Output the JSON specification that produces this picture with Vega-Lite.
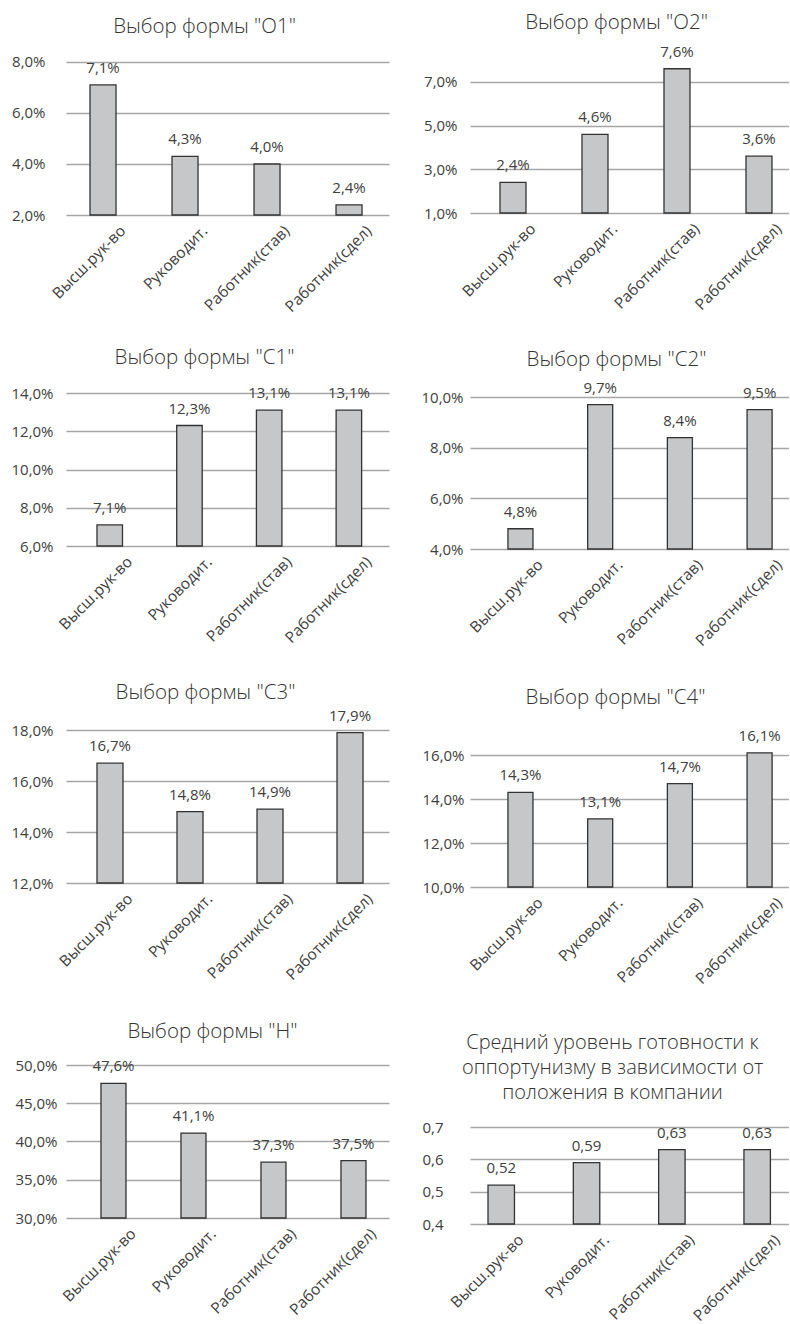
{
  "$schema": "https://vega.github.io/schema/vega-lite/v6.json",
  "padding": 0,
  "background": "white",
  "datasets": {
    "main": [
      {"panel": "O1", "cat": "Высш.рук-во", "value": 0.071},
      {"panel": "O1", "cat": "Руководит.", "value": 0.043},
      {"panel": "O1", "cat": "Работник(став)", "value": 0.040},
      {"panel": "O1", "cat": "Работник(сдел)", "value": 0.024},
      {"panel": "O2", "cat": "Высш.рук-во", "value": 0.024},
      {"panel": "O2", "cat": "Руководит.", "value": 0.046},
      {"panel": "O2", "cat": "Работник(став)", "value": 0.076},
      {"panel": "O2", "cat": "Работник(сдел)", "value": 0.036},
      {"panel": "C1", "cat": "Высш.рук-во", "value": 0.071},
      {"panel": "C1", "cat": "Руководит.", "value": 0.123},
      {"panel": "C1", "cat": "Работник(став)", "value": 0.131},
      {"panel": "C1", "cat": "Работник(сдел)", "value": 0.131},
      {"panel": "C2", "cat": "Высш.рук-во", "value": 0.048},
      {"panel": "C2", "cat": "Руководит.", "value": 0.097},
      {"panel": "C2", "cat": "Работник(став)", "value": 0.084},
      {"panel": "C2", "cat": "Работник(сдел)", "value": 0.095},
      {"panel": "C3", "cat": "Высш.рук-во", "value": 0.167},
      {"panel": "C3", "cat": "Руководит.", "value": 0.148},
      {"panel": "C3", "cat": "Работник(став)", "value": 0.149},
      {"panel": "C3", "cat": "Работник(сдел)", "value": 0.179},
      {"panel": "C4", "cat": "Высш.рук-во", "value": 0.143},
      {"panel": "C4", "cat": "Руководит.", "value": 0.131},
      {"panel": "C4", "cat": "Работник(став)", "value": 0.147},
      {"panel": "C4", "cat": "Работник(сдел)", "value": 0.161},
      {"panel": "H", "cat": "Высш.рук-во", "value": 0.476},
      {"panel": "H", "cat": "Руководит.", "value": 0.411},
      {"panel": "H", "cat": "Работник(став)", "value": 0.373},
      {"panel": "H", "cat": "Работник(сдел)", "value": 0.375},
      {"panel": "AVG", "cat": "Высш.рук-во", "value": 0.52},
      {"panel": "AVG", "cat": "Руководит.", "value": 0.59},
      {"panel": "AVG", "cat": "Работник(став)", "value": 0.63},
      {"panel": "AVG", "cat": "Работник(сдел)", "value": 0.63}
    ],
    "blank": []
  },
  "columns": 4,
  "spacing": 0,
  "bounds": "flush",
  "align": "each",
  "concat": [
    {"width": 66, "height": 1, "data": {"name": "blank"}, "mark": {"type": "point", "opacity": 0}, "encoding": {}},
    {"width": 1, "height": 60, "data": {"name": "blank"}, "mark": {"type": "point", "opacity": 0}, "encoding": {}},
    {"width": 1, "height": 1, "data": {"name": "blank"}, "mark": {"type": "point", "opacity": 0}, "encoding": {}},
    {"width": 1, "height": 1, "data": {"name": "blank"}, "mark": {"type": "point", "opacity": 0}, "encoding": {}},

    {"width": 66, "height": 1, "data": {"name": "blank"}, "mark": {"type": "point", "opacity": 0}, "encoding": {}},
    {
      "width": 323, "height": 155,
      "title": {"text": "Выбор формы \"О1\"", "dx": -23, "dy": -13},
      "data": {"name": "main"},
      "transform": [{"filter": "datum.panel === 'O1'"}],
      "encoding": {
        "x": {"field": "cat", "type": "nominal", "sort": null, "title": null, "scale": {"paddingInner": 0.683, "paddingOuter": 0.311, "align": 0.471}},
        "y": {"field": "value", "type": "quantitative", "title": null, "scale": {"domain": [0.02, 0.080784], "nice": false, "zero": false}, "axis": {"values": [0.02, 0.04, 0.06, 0.08], "format": ".1%", "labelPadding": 21}}
      },
      "layer": [
        {"mark": {"type": "bar"}, "encoding": {"y2": {"datum": 0.02}}},
        {"mark": {"type": "text"}, "encoding": {"text": {"field": "value", "type": "quantitative", "format": ".1%"}}}
      ]
    },
    {"width": 81, "height": 1, "data": {"name": "blank"}, "mark": {"type": "point", "opacity": 0}, "encoding": {}},
    {
      "width": 319, "height": 153,
      "title": {"text": "Выбор формы \"О2\"", "dx": -13, "dy": -7},
      "data": {"name": "main"},
      "transform": [{"filter": "datum.panel === 'O2'"}],
      "encoding": {
        "x": {"field": "cat", "type": "nominal", "sort": null, "title": null, "scale": {"paddingInner": 0.683, "paddingOuter": 0.2866, "align": 0.638}},
        "y": {"field": "value", "type": "quantitative", "title": null, "scale": {"domain": [0.01, 0.08], "nice": false, "zero": false}, "axis": {"values": [0.01, 0.03, 0.05, 0.07], "format": ".1%", "labelPadding": 13}}
      },
      "layer": [
        {"mark": {"type": "bar"}, "encoding": {"y2": {"datum": 0.01}}},
        {"mark": {"type": "text"}, "encoding": {"text": {"field": "value", "type": "quantitative", "format": ".1%"}}}
      ]
    },

    {"width": 1, "height": 1, "data": {"name": "blank"}, "mark": {"type": "point", "opacity": 0}, "encoding": {}},
    {"width": 1, "height": 178, "data": {"name": "blank"}, "mark": {"type": "point", "opacity": 0}, "encoding": {}},
    {"width": 1, "height": 1, "data": {"name": "blank"}, "mark": {"type": "point", "opacity": 0}, "encoding": {}},
    {"width": 1, "height": 1, "data": {"name": "blank"}, "mark": {"type": "point", "opacity": 0}, "encoding": {}},

    {"width": 1, "height": 1, "data": {"name": "blank"}, "mark": {"type": "point", "opacity": 0}, "encoding": {}},
    {
      "width": 323, "height": 153,
      "title": {"text": "Выбор формы \"С1\"", "dx": -23, "dy": -14},
      "data": {"name": "main"},
      "transform": [{"filter": "datum.panel === 'C1'"}],
      "encoding": {
        "x": {"field": "cat", "type": "nominal", "sort": null, "title": null, "scale": {"paddingInner": 0.68, "paddingOuter": 0.366, "align": 0.531}},
        "y": {"field": "value", "type": "quantitative", "title": null, "scale": {"domain": [0.06, 0.14], "nice": false, "zero": false}, "axis": {"values": [0.06, 0.08, 0.10, 0.12, 0.14], "format": ".1%", "labelPadding": 13}}
      },
      "layer": [
        {"mark": {"type": "bar"}, "encoding": {"y2": {"datum": 0.06}}},
        {"mark": {"type": "text"}, "encoding": {"text": {"field": "value", "type": "quantitative", "format": ".1%"}}}
      ]
    },
    {"width": 1, "height": 1, "data": {"name": "blank"}, "mark": {"type": "point", "opacity": 0}, "encoding": {}},
    {
      "width": 319, "height": 156,
      "title": {"text": "Выбор формы \"С2\"", "dx": -13, "dy": -6},
      "data": {"name": "main"},
      "transform": [{"filter": "datum.panel === 'C2'"}],
      "encoding": {
        "x": {"field": "cat", "type": "nominal", "sort": null, "title": null, "scale": {"paddingInner": 0.686, "paddingOuter": 0.344, "align": 0.692}},
        "y": {"field": "value", "type": "quantitative", "title": null, "scale": {"domain": [0.04, 0.101579], "nice": false, "zero": false}, "axis": {"values": [0.04, 0.06, 0.08, 0.10], "format": ".1%", "labelPadding": 7}}
      },
      "layer": [
        {"mark": {"type": "bar"}, "encoding": {"y2": {"datum": 0.04}}},
        {"mark": {"type": "text"}, "encoding": {"text": {"field": "value", "type": "quantitative", "format": ".1%"}}}
      ]
    },

    {"width": 1, "height": 1, "data": {"name": "blank"}, "mark": {"type": "point", "opacity": 0}, "encoding": {}},
    {"width": 1, "height": 181, "data": {"name": "blank"}, "mark": {"type": "point", "opacity": 0}, "encoding": {}},
    {"width": 1, "height": 1, "data": {"name": "blank"}, "mark": {"type": "point", "opacity": 0}, "encoding": {}},
    {"width": 1, "height": 1, "data": {"name": "blank"}, "mark": {"type": "point", "opacity": 0}, "encoding": {}},

    {"width": 1, "height": 1, "data": {"name": "blank"}, "mark": {"type": "point", "opacity": 0}, "encoding": {}},
    {
      "width": 323, "height": 153,
      "title": {"text": "Выбор формы \"С3\"", "dx": -22, "dy": -1},
      "data": {"name": "main"},
      "transform": [{"filter": "datum.panel === 'C3'"}],
      "encoding": {
        "x": {"field": "cat", "type": "nominal", "sort": null, "title": null, "scale": {"paddingInner": 0.675, "paddingOuter": 0.356, "align": 0.544}},
        "y": {"field": "value", "type": "quantitative", "title": null, "scale": {"domain": [0.12, 0.18], "nice": false, "zero": false}, "axis": {"values": [0.12, 0.14, 0.16, 0.18], "format": ".1%", "labelPadding": 13}}
      },
      "layer": [
        {"mark": {"type": "bar"}, "encoding": {"y2": {"datum": 0.12}}},
        {"mark": {"type": "text"}, "encoding": {"text": {"field": "value", "type": "quantitative", "format": ".1%"}}}
      ]
    },
    {"width": 1, "height": 1, "data": {"name": "blank"}, "mark": {"type": "point", "opacity": 0}, "encoding": {}},
    {
      "width": 319, "height": 157,
      "title": {"text": "Выбор формы \"С4\"", "dx": -14, "dy": -16},
      "data": {"name": "main"},
      "transform": [{"filter": "datum.panel === 'C4'"}],
      "encoding": {
        "x": {"field": "cat", "type": "nominal", "sort": null, "title": null, "scale": {"paddingInner": 0.686, "paddingOuter": 0.344, "align": 0.692}},
        "y": {"field": "value", "type": "quantitative", "title": null, "scale": {"domain": [0.10, 0.171364], "nice": false, "zero": false}, "axis": {"values": [0.10, 0.12, 0.14, 0.16], "format": ".1%", "labelPadding": 6}}
      },
      "layer": [
        {"mark": {"type": "bar"}, "encoding": {"y2": {"datum": 0.10}}},
        {"mark": {"type": "text"}, "encoding": {"text": {"field": "value", "type": "quantitative", "format": ".1%"}}}
      ]
    },

    {"width": 1, "height": 1, "data": {"name": "blank"}, "mark": {"type": "point", "opacity": 0}, "encoding": {}},
    {"width": 1, "height": 178, "data": {"name": "blank"}, "mark": {"type": "point", "opacity": 0}, "encoding": {}},
    {"width": 1, "height": 1, "data": {"name": "blank"}, "mark": {"type": "point", "opacity": 0}, "encoding": {}},
    {"width": 1, "height": 1, "data": {"name": "blank"}, "mark": {"type": "point", "opacity": 0}, "encoding": {}},

    {"width": 1, "height": 1, "data": {"name": "blank"}, "mark": {"type": "point", "opacity": 0}, "encoding": {}},
    {
      "width": 323, "height": 153,
      "title": {"text": "Выбор формы \"Н\"", "dx": -15, "dy": -12},
      "data": {"name": "main"},
      "transform": [{"filter": "datum.panel === 'H'"}],
      "encoding": {
        "x": {"field": "cat", "type": "nominal", "sort": null, "title": null, "scale": {"paddingInner": 0.6875, "paddingOuter": 0.3625, "align": 0.603}},
        "y": {"field": "value", "type": "quantitative", "title": null, "scale": {"domain": [0.30, 0.50], "nice": false, "zero": false}, "axis": {"values": [0.30, 0.35, 0.40, 0.45, 0.50], "format": ".1%", "labelPadding": 9}}
      },
      "layer": [
        {"mark": {"type": "bar"}, "encoding": {"y2": {"datum": 0.30}}},
        {"mark": {"type": "text"}, "encoding": {"text": {"field": "value", "type": "quantitative", "format": ".1%"}}}
      ]
    },
    {"width": 1, "height": 1, "data": {"name": "blank"}, "mark": {"type": "point", "opacity": 0}, "encoding": {}},
    {
      "width": 319, "height": 159,
      "title": {"text": ["Средний уровень готовности к", "оппортунизму в зависимости от", "положения в компании"], "dx": -17, "dy": 42, "lineHeight": 25, "fontSize": 20},
      "data": {"name": "main"},
      "transform": [{"filter": "datum.panel === 'AVG'"}],
      "encoding": {
        "x": {"field": "cat", "type": "nominal", "sort": null, "title": null, "scale": {"paddingInner": 0.69, "paddingOuter": 0.2145, "align": 0.492}},
        "y": {"field": "value", "type": "quantitative", "title": null, "scale": {"domain": [0.4, 0.891753], "nice": false, "zero": false}, "axis": {"values": [0.4, 0.5, 0.6, 0.7], "format": ".1f", "labelPadding": 27}}
      },
      "layer": [
        {"mark": {"type": "bar"}, "encoding": {"y2": {"datum": 0.4}}},
        {"mark": {"type": "text"}, "encoding": {"text": {"field": "value", "type": "quantitative", "format": ".2f"}}}
      ]
    }
  ],
  "config": {
    "view": {"stroke": null},
    "locale": {"number": {"decimal": ",", "thousands": "\u00a0", "grouping": [3], "currency": ["", ""]}},
    "font": "Open Sans",
    "axis": {"labelFont": "Open Sans", "labelFontSize": 15, "labelColor": "#404040", "domain": false, "ticks": false, "gridColor": "#a6a6a6", "gridWidth": 1.3},
    "axisX": {"grid": false, "labelAngle": -45, "labelPadding": 8, "labelOffset": 15, "labelFontSize": 15.5},
    "axisY": {"grid": true},
    "bar": {"fill": "#c6c7c8", "stroke": "#333333", "strokeWidth": 1.3},
    "text": {"font": "Open Sans", "fontSize": 15, "color": "#404040", "baseline": "alphabetic", "dy": -12},
    "title": {"font": "Open Sans", "fontSize": 20.5, "fontWeight": 300, "color": "#333333", "anchor": "middle", "frame": "group", "offset": 0}
  }
}
